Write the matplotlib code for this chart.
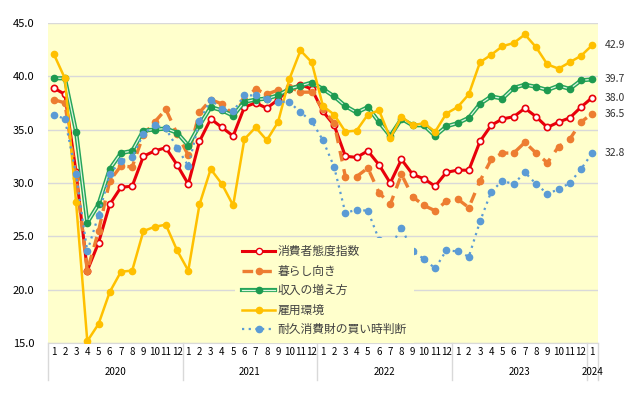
import numpy as np
import matplotlib
matplotlib.use("Agg")
import matplotlib.pyplot as plt
import matplotlib.transforms as mtransforms
from matplotlib.lines import Line2D

plt.rcParams['font.family'] = ['Noto Sans CJK JP', 'DejaVu Sans']

# データ（2020年1月〜2024年1月）
months = [str(m) for m in range(1, 13)] * 4 + ['1']
years = ['2020', '2021', '2022', '2023', '2024']

shohisha = [38.9, 38.3, 31.0, 21.8, 24.4, 28.0, 29.6, 29.7, 32.5, 33.0, 33.3, 31.7,
            29.9, 33.9, 36.0, 35.2, 34.4, 37.1, 37.5, 37.0, 37.8, 38.8, 39.2, 38.8,
            36.7, 35.4, 32.5, 32.4, 33.0, 31.7, 30.0, 32.2, 30.8, 30.4, 29.7, 31.0,
            31.2, 31.2, 33.9, 35.4, 36.0, 36.2, 37.0, 36.2, 35.2, 35.7, 36.1, 37.1,
            38.0]
kurashi = [37.8, 37.5, 30.5, 21.8, 25.5, 30.2, 31.6, 31.5, 34.5, 35.7, 36.9, 34.6,
           32.6, 36.6, 37.8, 37.4, 36.4, 37.8, 38.8, 38.3, 38.7, 39.0, 38.5, 38.5,
           36.9, 35.6, 30.6, 30.6, 31.4, 29.1, 28.0, 30.8, 28.7, 27.9, 27.4, 28.3,
           28.5, 27.7, 30.2, 32.2, 32.8, 32.8, 33.8, 32.8, 31.9, 33.4, 34.1, 35.7,
           36.5]
shunyu = [39.8, 39.8, 34.8, 26.3, 28.0, 31.3, 32.8, 33.0, 34.9, 35.0, 35.1, 34.7,
          33.5, 35.4, 37.1, 36.8, 36.3, 37.6, 37.8, 37.9, 38.2, 38.8, 39.1, 39.4,
          38.8, 38.1, 37.2, 36.6, 37.1, 35.7, 34.4, 36.0, 35.4, 35.4, 34.4, 35.3,
          35.6, 36.1, 37.4, 38.1, 37.9, 38.9, 39.2, 39.0, 38.7, 39.1, 38.8, 39.6,
          39.7]
koyo = [42.1, 39.8, 28.2, 15.2, 16.8, 19.8, 21.7, 21.8, 25.5, 25.9, 26.1, 23.7,
        21.8, 28.0, 31.3, 29.9, 27.9, 34.1, 35.2, 34.0, 35.7, 39.7, 42.4, 41.3,
        37.2, 36.4, 34.8, 34.9, 36.4, 36.8, 34.2, 36.2, 35.4, 35.6, 34.8, 36.5,
        37.1, 38.3, 41.3, 42.0, 42.8, 43.1, 43.9, 42.7, 41.1, 40.7, 41.3, 41.9,
        42.9]
taikyu = [36.4, 36.0, 30.8, 23.6, 27.0, 30.8, 32.1, 32.4, 34.6, 35.4, 35.1, 33.3,
          31.6, 35.8, 37.8, 36.9, 36.7, 38.2, 38.2, 37.9, 37.6, 37.6, 36.6, 35.8,
          34.0, 31.5, 27.2, 27.5, 27.4, 24.7, 24.0, 25.8, 23.6, 22.9, 22.0, 23.7,
          23.6, 23.1, 26.4, 29.2, 30.2, 29.9, 31.0, 29.9, 29.0, 29.4, 30.0, 31.3,
          32.8]

x = np.arange(len(months))

fig = plt.figure(figsize=(6.36, 3.97), dpi=100)
ax = fig.add_axes([0.0755, 0.1353, 0.8645, 0.8075])
ax.set_facecolor('#FFFFCC')

ms = 4.5
# 消費者態度指数
ax.plot(x, shohisha, color='#E8000B', lw=2.2, marker='o', ms=ms,
        mfc='white', mec='#E8000B', mew=1.2, zorder=3)
# 暮らし向き
ax.plot(x, kurashi, color='#ED7D31', lw=2.4, ls=(0, (3.2, 2.4)), marker='o', ms=ms,
        mfc='#ED7D31', mec='#ED7D31', zorder=3)
# 収入の増え方（二重線）
ax.plot(x, shunyu, color='#25A55A', lw=3.0, zorder=3)
ax.plot(x, shunyu, color='#DFF5DF', lw=0.9, marker='o', ms=ms,
        mfc='#1E9A50', mec='#1E9A50', zorder=3)
# 雇用環境
ax.plot(x, koyo, color='#FFC000', lw=1.8, marker='o', ms=ms,
        mfc='#FFC000', mec='#FFC000', zorder=3)
# 耐久消費財の買い時判断
ax.plot(x, taikyu, color='#5B9BD5', lw=1.6, ls=(0, (1, 2)), marker='o', ms=ms,
        mfc='#5B9BD5', mec='#5B9BD5', zorder=3)

ax.set_xlim(-0.5, len(months) - 0.5)
ax.set_ylim(15, 45)
ax.set_yticks(np.arange(15, 46, 5))
ax.set_yticklabels([f'{v:.1f}' for v in np.arange(15, 46, 5)], fontsize=8)
ax.yaxis.grid(True, color='#D9D9D9', lw=1)
ax.set_axisbelow(True)
ax.tick_params(axis='y', length=0, pad=10)
ax.tick_params(axis='x', length=0, pad=3)
ax.set_xticks(x)
ax.set_xticklabels(months, fontsize=7)
for s in ['left', 'right', 'top']:
    ax.spines[s].set_visible(False)
ax.spines['bottom'].set_color('#D9D9D9')

# 年ラベルと区切り線
trans = mtransforms.blended_transform_factory(ax.transData, ax.transAxes)
bounds = [-0.5, 11.5, 23.5, 35.5, 47.5, 48.5]
for b in bounds:
    ax.add_line(Line2D([b, b], [0, -0.115], transform=trans, color='#D9D9D9',
                       lw=1, clip_on=False))
for k, yr in enumerate(years):
    cx = (bounds[k] + bounds[k + 1]) / 2
    ax.text(cx, -0.09, yr, transform=trans, ha='center', va='center', fontsize=7)

# 最新値ラベル
for vals in [koyo, shunyu, shohisha, kurashi, taikyu]:
    ax.annotate(f'{vals[-1]:.1f}', xy=(x[-1], vals[-1]), xytext=(9, 0),
                textcoords='offset points', va='center', ha='left',
                fontsize=7.5, color='#333333', annotation_clip=False)

handles = [
    Line2D([], [], color='#E8000B', lw=2.2, marker='o', ms=ms, mfc='white', mec='#E8000B'),
    Line2D([], [], color='#ED7D31', lw=2.4, ls=(0, (3.2, 2.4)), marker='o', ms=ms,
           mfc='#ED7D31', mec='#ED7D31'),
    (Line2D([], [], color='#25A55A', lw=3.0),
     Line2D([], [], color='#DFF5DF', lw=0.9, marker='o', ms=ms, mfc='#1E9A50', mec='#1E9A50')),
    Line2D([], [], color='#FFC000', lw=1.8, marker='o', ms=ms, mfc='#FFC000', mec='#FFC000'),
    Line2D([], [], color='#5B9BD5', lw=1.6, ls=(0, (1, 2)), marker='o', ms=ms,
           mfc='#5B9BD5', mec='#5B9BD5'),
]
labels = ['消費者態度指数', '暮らし向き', '収入の増え方', '雇用環境', '耐久消費財の買い時判断']
leg = ax.legend(handles, labels, loc='upper left', bbox_to_anchor=(0.34, 0.328),
                borderaxespad=0, fontsize=8.5, frameon=True, facecolor='#FFFFCC',
                edgecolor='none', framealpha=1, handlelength=2.8, labelspacing=0.55,
                handletextpad=0.2, borderpad=0.6, fancybox=False)
for t in leg.get_texts():
    t.set_color('#404040')
leg.set_zorder(5)

fig.savefig('out.png', dpi=100)
